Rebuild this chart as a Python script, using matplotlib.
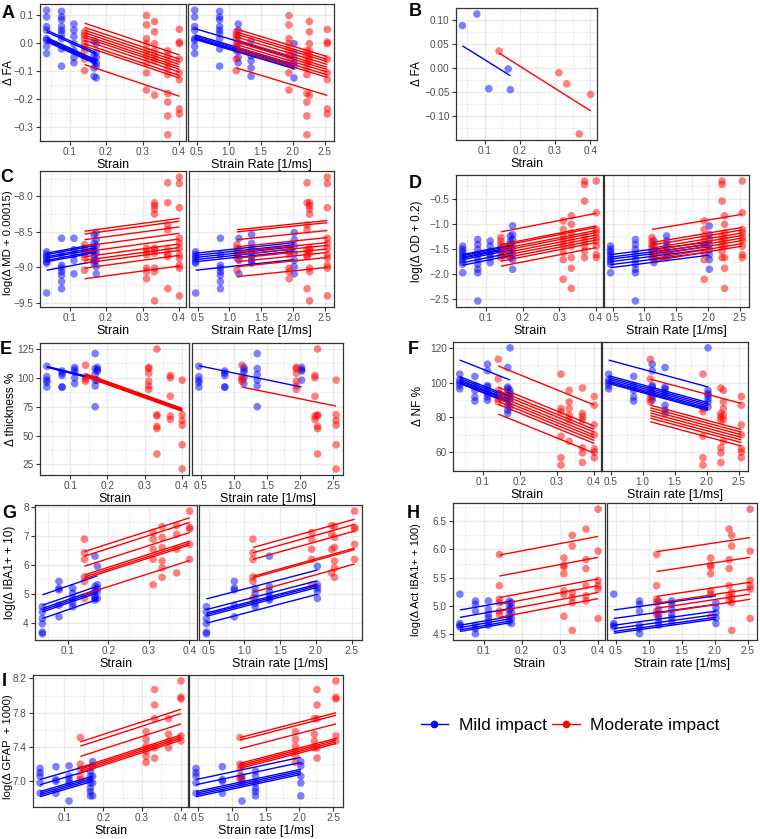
import numpy as np
import matplotlib.pyplot as plt
from matplotlib.ticker import MultipleLocator, AutoMinorLocator, FuncFormatter
from matplotlib.lines import Line2D

plt.rcParams['font.family'] = ['Liberation Sans', 'DejaVu Sans']

W, H = 760, 839

# subjects: strain and strain rate per animal
mild_strain = [0.037, 0.078, 0.112, 0.167, 0.173]
mild_rate = [0.47, 0.86, 1.15, 1.35, 2.02]
mod_strain = [0.141, 0.311, 0.333, 0.369, 0.401]
mod_rate = [1.12, 1.94, 2.26, 2.22, 2.54]

# A - delta FA
fa_mild = [[0.117, 0.093, 0.059, 0.046, 0.016, 0.010, -0.012, -0.037],
           [0.113, 0.093, 0.083, 0.059, 0.046, 0.034, 0.016, -0.021, -0.082],
           [0.068, 0.046, 0.024, -0.002, -0.027, -0.051, -0.070],
           [0.008, -0.045, -0.063, -0.088, -0.118],
           [-0.002, -0.033, -0.051, -0.070, -0.082, -0.124]]
fa_mod = [[0.040, 0.028, 0.016, -0.002, -0.015, -0.027, -0.057, -0.098],
          [0.098, 0.065, 0.016, -0.002, -0.027, -0.045, -0.070, -0.106, -0.167],
          [0.077, 0.040, -0.002, -0.027, -0.045, -0.063, -0.185],
          [-0.027, -0.045, -0.070, -0.088, -0.112, -0.179, -0.210, -0.259, -0.326],
          [0.049, 0.004, -0.002, -0.057, -0.106, -0.130, -0.234, -0.252]]
fa_strain_mild = [0.046, 0.040, 0.020, 0.016, 0.012, 0.009, 0.005]
fa_strain_mild_delta = -0.08
fa_strain_mod = [0.071, 0.056, 0.046, 0.037, 0.028, 0.020, 0.010, -0.002, -0.011, -0.076]
fa_strain_mod_delta = -0.113
fa_rate_mild = [0.052, 0.030, 0.025, 0.020, 0.017, 0.014]
fa_rate_mild_delta = -0.105
fa_rate_mod = [0.050, 0.040, 0.032, 0.022, 0.012, 0.004, -0.005, -0.015, -0.024, -0.088]
fa_rate_mod_delta = -0.098

# B - mean delta FA per animal
fa_mean_mild = [0.088, 0.112, -0.043, -0.002, -0.045]
fa_mean_mod = [0.035, -0.010, -0.033, -0.137, -0.055]
fa_mean_line_mild = [0.046]
fa_mean_line_mild_delta = -0.062
fa_mean_line_mod = [0.031]
fa_mean_line_mod_delta = -0.12

# C - log(delta MD + 0.00015)
md_mild = [[-8.78, -8.82, -8.85, -8.88, -8.92, -8.94, -9.36],
           [-8.59, -8.82, -8.97, -9.01, -9.06, -9.11, -9.20, -9.30],
           [-8.59, -8.75, -8.82, -8.90, -9.09],
           [-8.54, -8.66, -8.73, -8.78, -8.85, -8.90, -8.94],
           [-8.51, -8.61, -8.70, -8.80, -8.90, -8.99, -9.09]]
md_mod = [[-8.68, -8.73, -8.78, -8.82, -8.87, -9.04],
          [-8.73, -8.78, -8.82, -9.01, -9.06, -9.16],
          [-8.09, -8.13, -8.18, -8.25, -8.73, -8.75, -8.80, -9.01, -9.06, -9.47],
          [-7.81, -8.09, -8.40, -8.47, -8.75, -8.82, -8.85, -9.30],
          [-7.73, -7.82, -8.16, -8.59, -8.66, -8.73, -8.82, -8.87, -8.97, -9.01, -9.40]]
md_strain_mild = [-8.80, -8.82, -8.85, -8.87, -8.90, -8.92, -9.04]
md_strain_mild_delta = 0.13
md_strain_mod = [-8.49, -8.53, -8.61, -8.70, -8.78, -8.85, -8.90, -8.94, -9.01, -9.16]
md_strain_mod_delta = 0.18
md_rate_mild = [-8.80, -8.83, -8.86, -8.89, -8.92, -9.04]
md_rate_mild_delta = 0.15
md_rate_mod = [-8.47, -8.50, -8.61, -8.71, -8.78, -8.82, -8.87, -8.92, -8.99, -9.13]
md_rate_mod_delta = 0.13

# D - log(delta OD + 0.2)
od_mild = [[-1.44, -1.50, -1.55, -1.60, -1.65, -1.70, -1.75, -1.80, -1.97],
           [-1.31, -1.41, -1.51, -1.61, -1.71, -1.80, -1.90, -1.97, -2.53],
           [-1.34, -1.44, -1.54, -1.61, -1.67, -1.77],
           [-1.24, -1.34, -1.41, -1.47, -1.57, -1.67],
           [-1.04, -1.21, -1.31, -1.41, -1.51, -1.61, -1.71, -1.90]]
od_mod = [[-1.27, -1.34, -1.41, -1.47, -1.54, -1.61, -1.67],
          [-0.94, -1.11, -1.24, -1.34, -1.44, -1.57, -1.71, -2.10],
          [-0.84, -1.01, -1.18, -1.31, -1.44, -1.67, -1.88, -2.28],
          [-0.15, -0.22, -0.55, -1.24, -1.34, -1.44, -1.54, -1.67],
          [-0.15, -0.78, -1.11, -1.18, -1.27, -1.34, -1.44, -1.61, -1.67]]
od_strain_mild = [-1.61, -1.63, -1.66, -1.68, -1.71, -1.77, -1.82]
od_strain_mild_delta = 0.2
od_strain_mod = [-1.16, -1.41, -1.44, -1.50, -1.54, -1.59, -1.64, -1.69, -1.74, -1.84]
od_strain_mod_delta = 0.37
od_rate_mild = [-1.61, -1.66, -1.70, -1.75, -1.81, -1.87]
od_rate_mild_delta = 0.25
od_rate_mod = [-1.11, -1.37, -1.42, -1.48, -1.53, -1.58, -1.63, -1.69, -1.74]
od_rate_mod_delta = 0.3

# E - delta thickness %
th_mild = [[110, 101, 98, 96, 92], [106, 104, 102, 92, 92], [109, 107, 105, 100, 95],
           [121, 108, 103, 98, 93, 75], [109, 107, 106, 98]]
th_mod = [[111, 101, 99, 97], [109, 108, 104, 97, 93, 90], [125, 68, 67, 58, 56, 34],
          [102, 100, 84, 67, 64], [98, 68, 63, 59, 42, 21]]
th_strain_mild = [110, 109.6, 109.2]
th_strain_mild_delta = -11
th_strain_mod = [103.5, 103, 102.5, 102, 101.5, 101]
th_strain_mod_delta = -30
th_rate_mild = [110.5]
th_rate_mild_delta = -18.5
th_rate_mod = [92]
th_rate_mod_delta = -16.5

# F - delta NF %
nf_mild = [[104.9, 101.5, 100, 98.3, 96.4], [103.6, 98.3, 95.5, 91.7, 89.4],
           [110.6, 106.8, 98.3, 97.4, 93.6, 91.7, 89.8],
           [108.7, 97.4, 96.4, 94.5, 92.6, 87, 84.2, 82.3],
           [120, 95.5, 93.6, 92.6, 90.8, 88.9, 86]]
nf_mod = [[113.4, 102.1, 95.5, 93.6, 90.8, 88.9], [104.9, 85.1, 83.2, 69.1, 56.8, 52.5],
          [95.5, 88.9, 85.1, 81.3, 78.5, 66.2], [96.9, 82.3, 80.4, 78.5, 62.5, 59.6, 54],
          [92, 87, 75.7, 70, 61.9, 60, 56.8]]
nf_strain_mild = [113, 103.5, 102.5, 101.5, 100.8, 100, 99.5]
nf_strain_mild_delta = -11.5
nf_strain_mod = [109.6, 97.4, 95.5, 94, 92.3, 90.8, 89.2, 87.5, 81.9]
nf_strain_mod_delta = -22.5
nf_rate_mild = [113, 104, 103, 102, 101, 100.2, 99.5]
nf_rate_mild_delta = -15.5
nf_rate_mod = [102, 87, 85.5, 84, 82.5, 81, 79.5, 77.5]
nf_rate_mod_delta = -14

# G - log(delta IBA1+ + 10)
iba_mild = [[4.55, 4.37, 4.14, 3.96, 3.67, 3.61], [5.43, 5.19, 5.13, 4.6, 4.2],
            [5.19, 5.02, 4.84, 4.67, 4.55], [6.3, 5.25, 5.08, 4.9, 4.84, 4.78],
            [5.95, 5.31, 5.19, 5.08, 4.84]]
iba_mod = [[6.89, 6.42, 6.19, 5.58, 5.43, 4.84], [7.12, 6.89, 6.54, 6.19, 5.31],
           [7.32, 6.95, 6.6, 6.13, 5.89, 5.57], [7.36, 7.06, 6.54, 5.72],
           [7.86, 7.3, 7.24, 6.71, 6.19]]
iba_strain_mild = [4.96, 4.60, 4.49, 4.43, 4.37, 4.14]
iba_strain_mild_delta = 0.66
iba_strain_mod = [6.46, 6.30, 5.95, 5.65, 5.58, 5.52, 4.98]
iba_strain_mod_delta = 1.17
iba_rate_mild = [4.82, 4.45, 4.33, 4.28, 4.22, 3.98]
iba_rate_mild_delta = 1.0
iba_rate_mod = [6.60, 6.42, 6.19, 5.60, 5.55, 5.05]
iba_rate_mod_delta = 0.98

# H - log(delta Act IBA1+ + 100)
act_mild = [[5.21, 4.69, 4.66, 4.63], [5.09, 5.03, 4.91, 4.66, 4.6, 4.51],
            [5.09, 4.94, 4.85, 4.79, 4.72, 4.66], [5.09, 5.03, 4.94, 4.85, 4.79, 4.72],
            [5.06, 4.97, 4.88, 4.79, 4.69]]
act_mod = [[5.91, 5.36, 5.12, 5.06, 4.91, 4.85], [5.85, 5.72, 5.69, 5.57, 5.27, 5.21, 4.82],
           [6.25, 6.06, 5.24, 5.15, 5.06, 4.57], [6.36, 5.82, 5.66, 5.36, 5.18, 5.09],
           [6.71, 5.97, 5.45, 5.36, 5.3, 4.78]]
act_strain_mild = [4.93, 4.80, 4.66, 4.62, 4.58, 4.55]
act_strain_mild_delta = 0.16
act_strain_mod = [5.90, 5.53, 5.15, 5.03, 4.91, 4.80]
act_strain_mod_delta = 0.33
act_rate_mild = [4.93, 4.78, 4.66, 4.60, 4.55, 4.52]
act_rate_mild_delta = 0.25
act_rate_mod = [5.96, 5.61, 5.17, 5.05, 4.96, 4.87]
act_rate_mod_delta = 0.25

# I - log(delta GFAP + 1000)
gfap_mild = [[7.15, 7.1, 7.06, 6.98, 6.86], [7.17, 7.02, 7.0, 6.86],
             [7.18, 7.06, 7.02, 6.98, 6.77], [7.12, 7.06, 6.98, 6.92, 6.88, 6.83],
             [7.23, 7.18, 7.06, 6.98, 6.83]]
gfap_mod = [[7.51, 7.2, 7.14, 7.06, 7.02], [7.58, 7.49, 7.41, 7.35, 7.29, 7.22],
            [8.07, 7.89, 7.73, 7.39, 7.27], [7.73, 7.55, 7.47, 7.39],
            [8.17, 7.98, 7.96, 7.53, 7.47]]
gfap_strain_mild = [7.02, 6.96, 6.88, 6.86, 6.84, 6.82]
gfap_strain_mild_delta = 0.18
gfap_strain_mod = [7.46, 7.41, 7.29, 7.16, 7.14, 7.12, 7.10]
gfap_strain_mod_delta = 0.38
gfap_rate_mild = [7.02, 6.96, 6.88, 6.86, 6.84, 6.82]
gfap_rate_mild_delta = 0.26
gfap_rate_mod = [7.51, 7.48, 7.38, 7.21, 7.19, 7.17, 7.15]
gfap_rate_mod_delta = 0.29

BLUE = '#0000FF'
RED = '#FF0000'


def box(x0, y0, x1, y1):
    return [x0 / W, 1 - y1 / H, (x1 - x0) / W, (y1 - y0) / H]


def fmt(f):
    def g(v, p):
        if abs(v) < 1e-9:
            v = 0.0
        return (f % v).replace('-', '\u2212')
    return FuncFormatter(g)


def expand(vals):
    lo, hi = min(vals), max(vals)
    r = hi - lo
    return lo - 0.05 * r, hi + 0.05 * r


def style(ax, xstep, ystep, yf, show_y, yoff=0.0):
    for s in ax.spines.values():
        s.set_color('#333333')
        s.set_linewidth(0.9)
    ax.xaxis.set_major_locator(MultipleLocator(xstep))
    ax.xaxis.set_minor_locator(AutoMinorLocator(2))
    ax.yaxis.set_major_locator(MultipleLocator(ystep, offset=yoff))
    ax.yaxis.set_minor_locator(AutoMinorLocator(2))
    ax.xaxis.set_major_formatter(fmt('%.1f'))
    ax.yaxis.set_major_formatter(fmt(yf))
    ax.grid(which='major', color='#EBEBEB', lw=1.0)
    ax.grid(which='minor', color='#EBEBEB', lw=0.5)
    ax.set_axisbelow(True)
    ax.tick_params(which='minor', length=0)
    ax.tick_params(which='major', length=3, width=0.8, color='#333333',
                   labelsize=7.2, labelcolor='#4D4D4D', pad=1.5)
    if not show_y:
        ax.tick_params(axis='y', left=False, labelleft=False)


def scatter(ax, xs, ys, color):
    px = np.concatenate([[x] * len(y) for x, y in zip(xs, ys)])
    py = np.concatenate([y for y in ys])
    ax.scatter(px, py, s=30, color=color, alpha=0.5, edgecolors='none', zorder=2)


def fit_lines(ax, xs, starts, delta, color, lw=1.0):
    xe = [min(xs), max(xs)]
    for s in starts:
        ax.plot(xe, [s, s + delta], color=color, lw=lw, zorder=3,
                solid_capstyle='butt')


def panel(ax, xs_mild, xs_mod, mild, mod, lm, dm, lr, dr, xstep, ystep, yf,
          ylim, xlabel, ylabel=None, label_x=None, bx=None, yoff=0.0,
          label_y=0.5, label_size=8.5):
    scatter(ax, xs_mild, mild, BLUE)
    scatter(ax, xs_mod, mod, RED)
    fit_lines(ax, xs_mild, lm, dm, BLUE)
    fit_lines(ax, xs_mod, lr, dr, RED)
    ax.set_xlim(*expand(list(xs_mild) + list(xs_mod)))
    ax.set_ylim(*ylim)
    style(ax, xstep, ystep, yf, ylabel is not None, yoff)
    ax.set_xlabel(xlabel, fontsize=9, labelpad=1)
    if ylabel is not None:
        ax.set_ylabel(ylabel, fontsize=label_size)
        ax.yaxis.label.set_va('center')
        ax.yaxis.set_label_coords((label_x - bx[0]) / (bx[2] - bx[0]), label_y)


def ylims(mild, mod, *line_sets):
    vals = [v for g in mild + mod for v in g]
    for starts, delta in line_sets:
        vals += list(starts) + [s + delta for s in starts]
    return expand(vals)


fig = plt.figure(figsize=(W / 100, H / 100), dpi=100)


def pair(bs, br, mild, mod, sm, sdm, so, sdo, rm, rdm, ro, rdo, ystep, yf,
         ylabel, rlabel, label_x, yoff=0.0, label_y=0.5, label_size=8.5):
    lim = ylims(mild, mod, (sm, sdm), (so, sdo), (rm, rdm), (ro, rdo))
    a1 = fig.add_axes(box(*bs))
    panel(a1, mild_strain, mod_strain, mild, mod, sm, sdm, so, sdo,
          0.1, ystep, yf, lim, 'Strain', ylabel, label_x, bs, yoff,
          label_y, label_size)
    a2 = fig.add_axes(box(*br))
    panel(a2, mild_rate, mod_rate, mild, mod, rm, rdm, ro, rdo,
          0.5, ystep, yf, lim, rlabel, yoff=yoff)
    return a1, a2


pair((40, 4, 186, 141), (188, 4, 334, 141), fa_mild, fa_mod,
     fa_strain_mild, fa_strain_mild_delta, fa_strain_mod, fa_strain_mod_delta,
     fa_rate_mild, fa_rate_mild_delta, fa_rate_mod, fa_rate_mod_delta,
     0.1, '%.1f', '\u0394 FA', 'Strain Rate [1/ms]', 8.5)

bb = (456, 8, 597, 140)
axb = fig.add_axes(box(*bb))
limb = ylims([fa_mean_mild], [fa_mean_mod],
             (fa_mean_line_mild, fa_mean_line_mild_delta),
             (fa_mean_line_mod, fa_mean_line_mod_delta))
panel(axb, mild_strain, mod_strain, [[v] for v in fa_mean_mild], [[v] for v in fa_mean_mod],
      fa_mean_line_mild, fa_mean_line_mild_delta, fa_mean_line_mod, fa_mean_line_mod_delta,
      0.1, 0.05, '%.2f', limb, 'Strain', '\u0394 FA', 417, bb)

pair((40, 171, 186, 307), (189, 171, 334, 307), md_mild, md_mod,
     md_strain_mild, md_strain_mild_delta, md_strain_mod, md_strain_mod_delta,
     md_rate_mild, md_rate_mild_delta, md_rate_mod, md_rate_mod_delta,
     0.5, '%.1f', 'log(\u0394 MD + 0.00015)', 'Strain Rate [1/ms]', 8,
     label_y=0.47, label_size=8.2)

pair((456, 175, 603, 307), (604, 175, 749, 307), od_mild, od_mod,
     od_strain_mild, od_strain_mild_delta, od_strain_mod, od_strain_mod_delta,
     od_rate_mild, od_rate_mild_delta, od_rate_mod, od_rate_mod_delta,
     0.5, '%.1f', 'log(\u0394 OD + 0.2)', 'Strain Rate [1/ms]', 417)

pair((40, 343, 189, 475), (192, 343, 343, 475), th_mild, th_mod,
     th_strain_mild, th_strain_mild_delta, th_strain_mod, th_strain_mod_delta,
     th_rate_mild, th_rate_mild_delta, th_rate_mod, th_rate_mod_delta,
     25, '%d', '\u0394 thickness %', 'Strain rate [1/ms]', 11)

pair((453, 342, 601, 471), (602, 342, 748, 471), nf_mild, nf_mod,
     nf_strain_mild, nf_strain_mild_delta, nf_strain_mod, nf_strain_mod_delta,
     nf_rate_mild, nf_rate_mild_delta, nf_rate_mod, nf_rate_mod_delta,
     20, '%d', '\u0394 NF %', 'Strain rate [1/ms]', 418)

pair((35, 505, 197, 640), (199, 505, 362, 640), iba_mild, iba_mod,
     iba_strain_mild, iba_strain_mild_delta, iba_strain_mod, iba_strain_mod_delta,
     iba_rate_mild, iba_rate_mild_delta, iba_rate_mod, iba_rate_mod_delta,
     1, '%d', 'log(\u0394 IBA1+ + 10)', 'Strain rate [1/ms]', 10)

pair((453, 503, 605, 640), (607, 503, 757, 640), act_mild, act_mod,
     act_strain_mild, act_strain_mild_delta, act_strain_mod, act_strain_mod_delta,
     act_rate_mild, act_rate_mild_delta, act_rate_mod, act_rate_mod_delta,
     0.5, '%.1f', 'log(\u0394 Act IBA1+ + 100)', 'Strain rate [1/ms]', 416,
     label_y=0.44, label_size=8.0)

pair((33, 675, 188, 807), (189, 675, 343, 807), gfap_mild, gfap_mod,
     gfap_strain_mild, gfap_strain_mild_delta, gfap_strain_mod, gfap_strain_mod_delta,
     gfap_rate_mild, gfap_rate_mild_delta, gfap_rate_mod, gfap_rate_mod_delta,
     0.4, '%.1f', 'log(\u0394 GFAP  + 1000)', 'Strain rate [1/ms]', 8, yoff=0.2,
     label_y=0.46, label_size=8.2)

letters = ['A', 'B', 'C', 'D', 'E', 'F', 'G', 'H', 'I']
letter_pos = [(2, 14), (409, 12), (0, 178), (409, 183), (0, 349),
              (408, 349), (2, 513), (407, 513), (2, 681)]
for t, (x, y) in zip(letters, letter_pos):
    fig.text(x / W, 1 - y / H, t, fontsize=13, fontweight='bold',
             ha='left', va='center')

handles = [Line2D([], [], color=BLUE, marker='o', markersize=4.5, lw=1),
           Line2D([], [], color=RED, marker='o', markersize=4.5, lw=1)]
fig.legend(handles, ['Mild impact', 'Moderate impact'], loc='center',
           bbox_to_anchor=(570 / W, 1 - 725 / H), ncol=2, frameon=False,
           fontsize=12.5, handlelength=1.6, handletextpad=0.6, columnspacing=0.3)

fig.savefig('out.png', dpi=100, facecolor='white')
